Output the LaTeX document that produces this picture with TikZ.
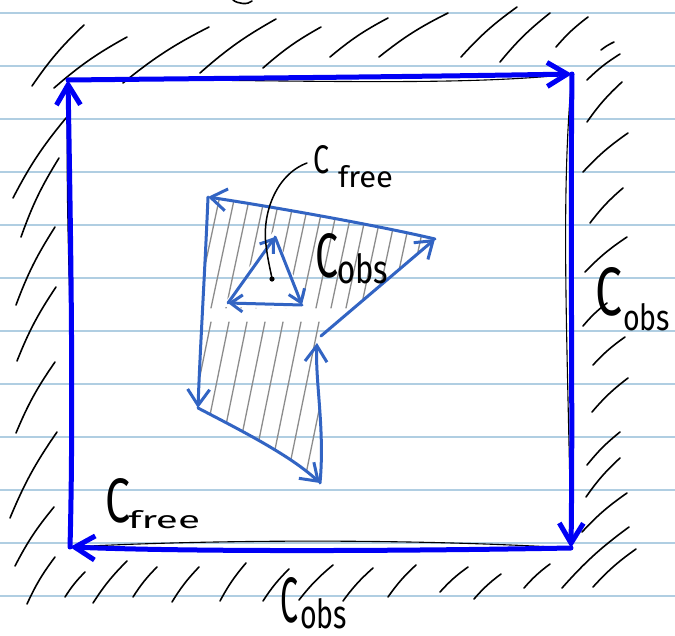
\documentclass[tikz,border=0pt]{standalone}
\usepackage{fontspec}
\setmainfont{Fira Sans}
\usetikzlibrary{arrows.meta}
\definecolor{paperline}{RGB}{176,206,226}
\definecolor{inkblue}{RGB}{0,0,245}
\definecolor{penblue}{RGB}{50,100,195}
\definecolor{hatchgray}{RGB}{140,140,140}
\newcommand{\fitbox}[3]{\resizebox{#1pt}{#2pt}{#3}}
\begin{document}
\begin{tikzpicture}[x=1pt,y=-1pt,line cap=round,line join=round,
  ruled/.style={paperline,line width=1.6pt},
  hatchline/.style={black,line width=1.6pt},
  outerarrow/.style={inkblue,line width=5pt,-{Straight Barb[length=20pt,width=24pt]}},
  innerarrow/.style={penblue,line width=3pt,-{Straight Barb[length=16pt,width=22pt]}},
  holearrow/.style={penblue,line width=3pt,-{Straight Barb[length=12pt,width=17pt]}},
  ghost/.style={black,line width=1.1pt},
  grayhatch/.style={hatchgray,line width=1.3pt},
  txt/.style={inner sep=0pt,outer sep=0pt,anchor=north west,text=black}]
\fill[white] (0,0) rectangle (675,635);
\useasboundingbox (0,0) rectangle (675,635);
% ruled paper
\foreach \k in {0,...,11}
  \draw[ruled] (0,{13+53*\k}) -- (675,{13+53*\k});
% coordinates
\coordinate (TL) at (68,80);
\coordinate (TR) at (572,74);
\coordinate (BR) at (571,548);
\coordinate (BL) at (70,547);
\coordinate (A) at (208,197);
\coordinate (B) at (435,239);
\coordinate (N1) at (317,343);
\coordinate (N2) at (321,336);
\coordinate (D) at (320,483);
\coordinate (E) at (198,408);
\coordinate (Ta) at (275,237);
\coordinate (Tb) at (302,305);
\coordinate (Tc) at (228,303);
\coordinate (lead) at (307,163);
\coordinate (dot) at (272,279);
% gray hatching of the inner obstacle
\begin{scope}[even odd rule]
  \clip (A) .. controls (280,208) and (380,226) .. (B) -- (N2) -- (N1)
        .. controls (315,380) and (325,430) .. (D)
        .. controls (290,455) and (240,430) .. (E)
        .. controls (200,350) and (205,270) .. (A) -- cycle
        (274,230) -- (308,309) -- (222,307) -- cycle;
  \foreach \x in {196,211,...,446}
    \draw[grayhatch] (\x,308) -- ++(23,-108);
  \foreach \x in {180,198,...,340}
    \draw[grayhatch] (\x,474) -- ++(31,-152);
\end{scope}
% black hatching outside the square
\foreach \a/\b/\c/\d in {
  32/86/84/25, 54/88/127/37, 123/83/209/27, 200/73/276/19, 263/68/321/27,
  330/57/388/18, 379/57/448/13, 461/57/517/7, 500/62/550/13, 556/47/588/17,
  601/50/614/42,
  13/198/66/118, 21/237/59/158, 16/305/55/227, 17/361/56/287, 16/433/55/362,
  10/518/57/432, 15/566/54/507, 27/604/55/557,
  65/597/85/572, 93/603/127/561, 133/597/157/567, 172/602/199/567,
  220/601/246/563, 263/601/289/569, 299/600/333/565, 343/601/373/568,
  388/597/416/565, 440/592/468/567, 474/599/501/574, 524/588/550/564,
  562/588/629/527, 593/587/636/549,
  587/80/620/54, 587/122/622/82, 583/172/628/133, 590/223/623/188,
  585/272/627/237, 583/326/607/303, 593/365/625/337, 592/412/628/378,
  587/465/620/432, 586/497/620/458, 582/532/627/493}
  \draw[hatchline] (\a,\b) to[bend left=6] (\c,\d);
\draw[hatchline] (233,0) .. controls (238,4) and (248,5) .. (252,1);
% pencil square under the blue one
\draw[ghost] (TL) .. controls (250,78) and (450,88) .. (TR);
\draw[ghost] (TL) .. controls (64,250) and (76,350) .. (BL);
\draw[ghost] (TR) .. controls (560,200) and (568,350) .. (BR);
\draw[ghost] (BL) .. controls (200,540) and (400,538) .. (BR);
% blue boundary of the outer square
\draw[outerarrow] (BL) .. controls (74,400) and (70,200) .. (TL);
\draw[outerarrow] (TL) .. controls (250,78) and (400,77) .. (TR);
\draw[outerarrow] (TR) .. controls (570,250) and (573,400) .. (BR);
\draw[outerarrow] (BR) .. controls (400,551) and (200,552) .. (BL);
% inner obstacle boundary
\draw[innerarrow] (B) .. controls (380,226) and (280,208) .. (A);
\draw[innerarrow] (A) .. controls (205,270) and (200,350) .. (E);
\draw[innerarrow] (E) .. controls (240,430) and (290,455) .. (D);
\draw[innerarrow] (D) .. controls (325,430) and (315,380) .. (N1);
\draw[innerarrow] (N2) -- (B);
% triangular hole
\draw[holearrow] (Tc) -- (Ta);
\draw[holearrow] (Ta) -- (Tb);
\draw[holearrow] (Tb) -- (Tc);
% leader to the hole
\draw[black,line width=1.5pt] (lead) .. controls (275,175) and (262,215) .. (266,245)
  .. controls (268,262) and (271,272) .. (dot);
\fill[black] (dot) circle (2.6);
% labels
\node[txt] (c1) at (105,478) {\fitbox{25}{44}{C}};
\node[txt] (s1) at (128,510) {\fitbox{72}{18}{free}};
\node[txt] (c2) at (313,145) {\fitbox{16}{28}{C}};
\node[txt] (s2) at (338,165) {\fitbox{55}{22}{free}};
\node[txt] (c3) at (315,233) {\fitbox{23}{44}{C}};
\node[txt] (s3) at (337,253) {\fitbox{51}{30}{obs}};
\node[txt] (c4) at (595,267) {\fitbox{27}{48}{C}};
\node[txt] (s4) at (623,303) {\fitbox{47}{27}{obs}};
\node[txt] (c5) at (280,577) {\fitbox{18}{45}{C}};
\node[txt] (s5) at (300,598) {\fitbox{47}{30}{obs}};
\end{tikzpicture}
\end{document}
